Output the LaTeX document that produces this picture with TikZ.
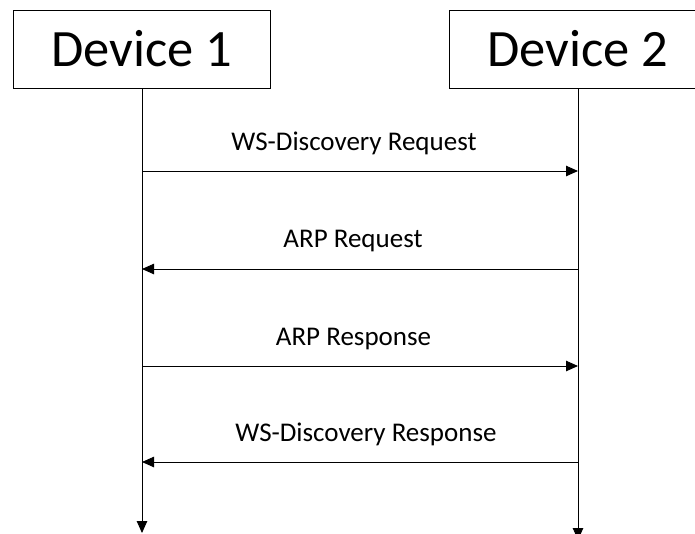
\documentclass[tikz,border=0pt]{standalone}
\usepackage{fontspec}
\setmainfont{Carlito}
\usetikzlibrary{arrows.meta}
\begin{document}
\begin{tikzpicture}[x=1pt,y=-1pt,
  devbox/.style={draw=black,line width=0.9pt,fill=white,minimum width=257pt,minimum height=78pt,inner sep=0pt,font=\fontsize{52.5}{60}\selectfont},
  lifeline/.style={draw=black,line width=0.9pt,-{Triangle[length=12pt,width=10.5pt]}},
  msg/.style={draw=black,line width=0.9pt,-{Triangle[length=12pt,width=10.5pt]}},
  msglabel/.style={anchor=base,inner sep=0pt,font=\fontsize{27}{32}\selectfont}]
\useasboundingbox (0,0) rectangle (695,533);
\node[devbox] (d1) at (142,49) {Device 1};
\node[devbox] (d2) at (578,49) {Device 2};
\coordinate (e1) at (142,533);
\coordinate (e2) at (578,540);
\draw[lifeline] (d1.south) -- (e1);
\draw[lifeline] (d2.south) -- (e2);
% message points
\coordinate (a1) at (142,171);  \coordinate (b1) at (578,171);
\coordinate (a2) at (142,269);  \coordinate (b2) at (578,269);
\coordinate (a3) at (142,366);  \coordinate (b3) at (578,366);
\coordinate (a4) at (142,462);  \coordinate (b4) at (578,462);
\draw[msg] (a1) -- (b1);
\draw[msg] (b2) -- (a2);
\draw[msg] (a3) -- (b3);
\draw[msg] (b4) -- (a4);
\node[msglabel] (t1) at (354,150) {WS-Discovery Request};
\node[msglabel] (t2) at (353,247) {ARP Request};
\node[msglabel] (t3) at (353.5,345.5) {ARP Response};
\node[msglabel] (t4) at (366,441.5) {WS-Discovery Response};
\end{tikzpicture}
\end{document}
